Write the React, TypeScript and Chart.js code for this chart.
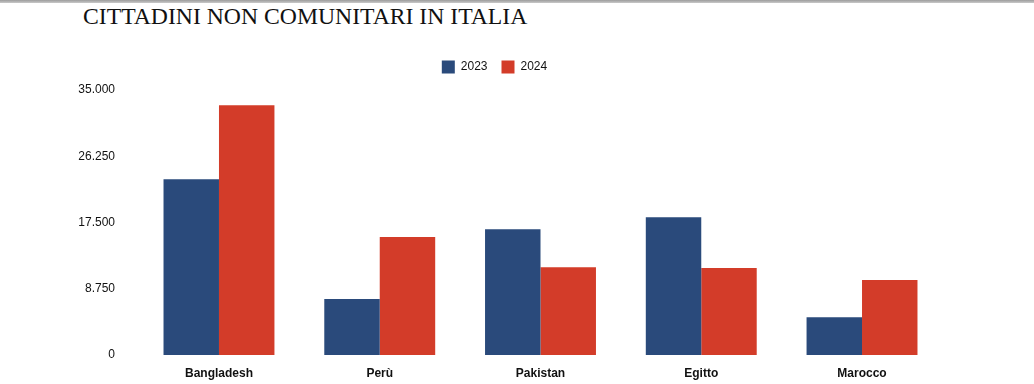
import React, { useEffect, useRef } from "react";
import { Chart, registerables } from "chart.js";

Chart.register(...registerables);

const title = "CITTADINI NON COMUNITARI IN ITALIA";
const categories = ["Bangladesh", "Perù", "Pakistan", "Egitto", "Marocco"];
const seriesLabels = ["2023", "2024"];
const values2023 = [23200, 7400, 16600, 18200, 5000];
const values2024 = [33000, 15600, 11600, 11500, 9900];
const yTicks = [0, 8750, 17500, 26250, 35000];

const BLUE = "#2a4a7b";
const RED = "#d33c29";
const SANS = '"Liberation Sans Narrow", "Arial Narrow", "Liberation Sans", Arial, sans-serif';

function fmt(v: number): string {
  const s = Math.round(v).toString();
  return s.replace(/\B(?=(\d{3})+(?!\d))/g, ".");
}

const legendHeightPlugin = {
  id: "legendHeight",
  beforeInit(chart: any) {
    const legend = chart.legend;
    if (!legend) return;
    const orig = legend.fit;
    legend.fit = function () {
      orig.bind(legend)();
      legend.height = 43.5;
    };
  },
};

export default function App() {
  const ref = useRef<HTMLCanvasElement | null>(null);
  useEffect(() => {
    if (!ref.current) return;
    const chart = new Chart(ref.current, {
      type: "bar",
      data: {
        labels: categories,
        datasets: [
          { label: seriesLabels[0], data: values2023, backgroundColor: BLUE, borderWidth: 0 },
          { label: seriesLabels[1], data: values2024, backgroundColor: RED, borderWidth: 0 },
        ],
      },
      plugins: [legendHeightPlugin],
      options: {
        animation: false,
        responsive: false,
        maintainAspectRatio: false,
        layout: { padding: { left: 46.6, right: 91.6, top: 46.5, bottom: 0 } },
        datasets: { bar: { categoryPercentage: 0.69, barPercentage: 1.0 } },
        plugins: {
          title: { display: false },
          tooltip: { enabled: false },
          legend: {
            display: true,
            position: "top",
            labels: {
              boxWidth: 13,
              boxHeight: 13,
              padding: 14,
              color: "#111",
              font: { family: SANS, size: 12 },
            },
          },
        },
        scales: {
          x: {
            grid: { display: false, drawTicks: false },
            border: { display: false },
            afterFit: (scale: any) => {
              scale.height = 29;
            },
            ticks: {
              padding: 11,
              color: "#111",
              font: { family: SANS, size: 12, weight: "bold" },
            },
          },
          y: {
            min: 0,
            max: 35000,
            grid: { display: false, drawTicks: false },
            border: { display: false },
            afterBuildTicks: (scale: any) => {
              scale.ticks = yTicks.map((v) => ({ value: v }));
            },
            afterFit: (scale: any) => {
              scale.width = 92;
              scale.paddingTop = 0;
              scale.paddingBottom = 0;
            },
            ticks: {
              padding: 23.6,
              color: "#111",
              font: { family: SANS, size: 12 },
              callback: (v: any) => fmt(Number(v)),
            },
          },
        },
      },
    });
    return () => chart.destroy();
  }, []);

  return (
    <div style={{ position: "fixed", left: 0, top: 0, width: 1034, height: 384, background: "#fff", overflow: "hidden" }}>
      <div style={{ position: "absolute", left: 0, top: 0, width: 1034, height: 3, background: "linear-gradient(#9c9c9c, #c9c9c9)" }} />
      <div
        style={{
          position: "absolute",
          left: 83,
          top: 2,
          fontFamily: '"Liberation Serif", "Times New Roman", serif',
          fontSize: 23.7,
          lineHeight: "28px",
          color: "#111",
          whiteSpace: "nowrap",
        }}
      >
        {title}
      </div>
      <canvas ref={ref} width={1034} height={384} style={{ position: "absolute", left: 0, top: 0, width: 1034, height: 384 }} />
    </div>
  );
}
